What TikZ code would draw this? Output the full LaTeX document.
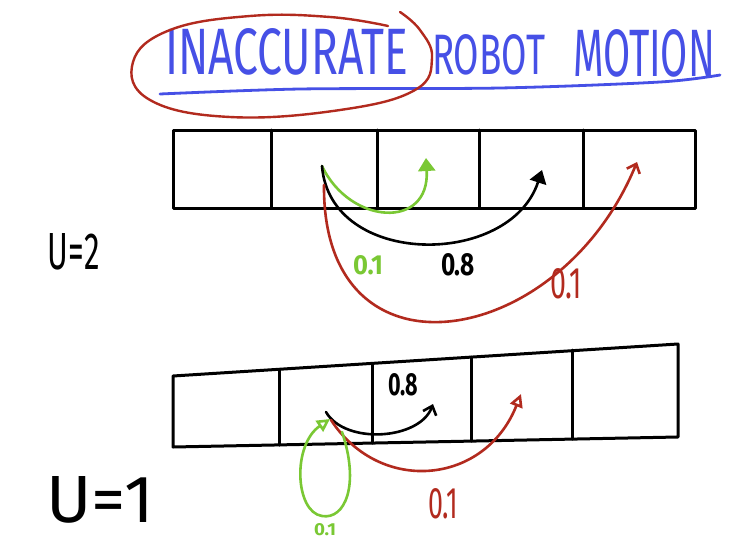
\documentclass[tikz,border=0pt]{standalone}
\usepackage{fontspec}
\setmainfont{Fira Sans}
\usepackage{graphicx}
\usetikzlibrary{arrows.meta}
\definecolor{penblue}{RGB}{70,80,230}
\definecolor{penred}{RGB}{178,42,30}
\definecolor{pengreen}{RGB}{122,200,52}
\newcommand{\hwtext}[3]{\resizebox{#1}{#2}{\fontsize{40pt}{40pt}\selectfont #3}}
\newcommand{\hwbold}[3]{\resizebox{#1}{#2}{\fontsize{40pt}{40pt}\selectfont\bfseries #3}}
\tikzset{
  cellline/.style={line width=3pt, line join=round, line cap=round},
  pen/.style={line width=2.6pt, line cap=round},
  lbl/.style={inner sep=0pt, outer sep=0pt},
  filledtip/.style={-{Triangle[length=13pt,width=17pt]}},
  opentip/.style={-{Triangle[open,length=13pt,width=13pt]}},
  barbtip/.style={-{Straight Barb[length=8pt,width=14pt]}},
}
\begin{document}
\begin{tikzpicture}[x=1pt,y=-1pt]
\useasboundingbox (0,0) rectangle (734,544);
\fill[white] (0,0) rectangle (734,544);

% title
\node[lbl, penblue, anchor=south west] (t1) at (165,75) {\hwtext{243pt}{46pt}{INACCURATE}};
\node[lbl, penblue, anchor=south west] (t2) at (432,75) {\hwtext{113pt}{40pt}{ROBOT}};
\node[lbl, penblue, anchor=south west] (t3) at (573,77) {\hwtext{142pt}{47pt}{MOTION}};
\draw[pen, penblue, line width=2.8pt] plot[smooth] coordinates {(160,94) (300,89) (500,88) (660,82) (720,75)};
\draw[pen, penred, line width=2.4pt] plot[smooth, tension=0.7] coordinates {(388,26) (330,17) (250,16) (170,30) (133,62) (150,100) (230,117) (340,110) (415,90) (432,58) (420,30) (400,12)};

% top row cells
\foreach \i/\x in {0/173,1/271,2/377,3/479,4/583,5/695}{
  \coordinate (ta\i) at (\x,130);
  \coordinate (tb\i) at (\x,208);
}
\draw[cellline] (ta0) rectangle (tb5);
\foreach \i in {1,...,4}{ \draw[cellline] (ta\i) -- (tb\i); }

% bottom row cells
\foreach \i/\x/\yt/\yb in {0/173/376/447,1/279/370/445,2/372/364/443,3/471/357/441,4/572/350/439,5/678/344/437}{
  \coordinate (ba\i) at (\x,\yt);
  \coordinate (bb\i) at (\x,\yb);
}
\draw[cellline] (ba0) -- (ba5) -- (bb5) -- (bb0) -- cycle;
\foreach \i in {1,...,4}{ \draw[cellline] (ba\i) -- (bb\i); }

% velocity labels
\node[lbl] (v2) at (74,252) {\hwtext{52pt}{36pt}{U=2}};
\node[lbl] (v1) at (100,500) {\hwtext{108pt}{46pt}{U=1}};

% top row motion
\coordinate (s2) at (322,166);
\coordinate (s2r) at (324,185);
\coordinate (g2) at (426,158);
\coordinate (k2) at (542,170);
\coordinate (r2) at (637,162);
\draw[pen, pengreen, filledtip] (s2) .. controls (350,225) and (430,230) .. (g2);
\draw[pen, filledtip] (s2) .. controls (330,268) and (510,268) .. (k2);
\draw[pen, penred, barbtip] (s2r) .. controls (322,390) and (560,350) .. (r2);
\node[lbl, pengreen] (l1) at (368,265) {\hwbold{30pt}{19pt}{0.1}};
\node[lbl] (l2) at (458,265) {\hwbold{34pt}{22pt}{0.8}};
\node[lbl, penred] (l3) at (566,284) {\hwtext{32pt}{30pt}{0.1}};

% bottom row motion
\coordinate (s1) at (326,412);
\coordinate (s1r) at (331,420);
\coordinate (k1) at (433,404);
\coordinate (r1) at (521,394);
\coordinate (g1s) at (342,432);
\coordinate (g1) at (330,419);
\draw[pen, barbtip] (s1) .. controls (345,445) and (420,440) .. (k1);
\draw[pen, penred, opentip] (s1r) .. controls (380,495) and (485,485) .. (r1);
\draw[pen, pengreen, opentip] (g1s) .. controls (360,485) and (345,520) .. (322,516) .. controls (295,512) and (292,445) .. (g1);
\node[lbl, pengreen, anchor=south] (l6) at (325,536) {\hwbold{22pt}{12pt}{0.1}};
\node[lbl] (l4) at (403,385) {\hwbold{30pt}{22pt}{0.8}};
\node[lbl, penred] (l5) at (443,504) {\hwtext{30pt}{30pt}{0.1}};
\end{tikzpicture}
\end{document}
